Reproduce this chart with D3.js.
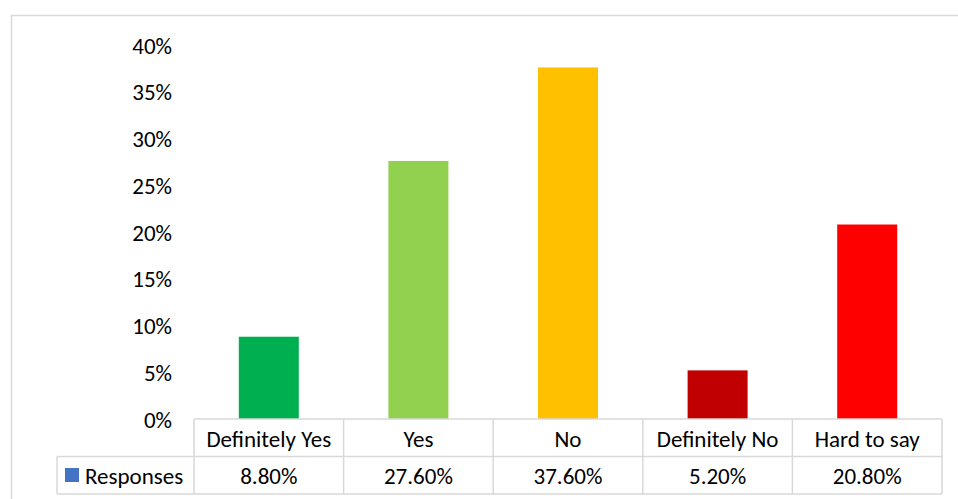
<!DOCTYPE html>
<html>
<head>
<meta charset="utf-8">
<script src="https://cdn.jsdelivr.net/npm/d3@7"></script>
<style>
html,body{margin:0;padding:0;background:#fff;}
svg{display:block;}
text{font-family:Carlito, Calibri, Lato, "Liberation Sans", sans-serif;fill:#000;}
</style>
</head>
<body>
<svg id="chart" width="958" height="499"></svg>
<script>
const categories = ["Definitely Yes", "Yes", "No", "Definitely No", "Hard to say"];
const values = [0.088, 0.276, 0.376, 0.052, 0.208];
const valueLabels = ["8.80%", "27.60%", "37.60%", "5.20%", "20.80%"];
const colors = ["#00B050", "#92D050", "#FFC000", "#C00000", "#FF0000"];
const yTicks = [0, 0.05, 0.10, 0.15, 0.20, 0.25, 0.30, 0.35, 0.40];
const seriesName = "Responses";

const svg = d3.select("#chart");
const fs = 23;
const gridColor = "#d9d9d9";

// outer chart border
svg.append("rect").attr("x", 11.5).attr("y", 15.5).attr("width", 1000).attr("height", 600)
  .attr("fill", "none").attr("stroke", gridColor).attr("stroke-width", 1.5);

const x = d3.scaleBand().domain(categories).range([194, 942]).paddingInner(0).paddingOuter(0);
const y = d3.scaleLinear().domain([0, 0.4]).range([419, 45]);

// y axis labels
const yAxis = d3.axisLeft(y).tickValues(yTicks).tickFormat(d3.format(".0%")).tickSize(0).tickPadding(0);
const yg = svg.append("g").attr("transform", "translate(172,0)").call(yAxis);
yg.select(".domain").remove();
yg.selectAll("text").attr("font-size", fs).attr("font-family", null).attr("fill", "#000").attr("dy", "0.35em");

// bars
const bw = 60;
svg.append("g").selectAll("rect").data(categories).join("rect")
  .attr("x", (d) => x(d) + x.bandwidth() / 2 - bw / 2)
  .attr("width", bw)
  .attr("y", (d, i) => y(values[i]))
  .attr("height", (d, i) => y(0) - y(values[i]))
  .attr("fill", (d, i) => colors[i]);

// data table
const rowTop = 419, rowMid = 456.5, rowBot = 494;
const tg = svg.append("g").attr("fill", "none").attr("stroke", gridColor).attr("stroke-width", 1.5);
tg.append("line").attr("x1", 194).attr("x2", 942).attr("y1", rowTop).attr("y2", rowTop);
tg.append("line").attr("x1", 57).attr("x2", 942).attr("y1", rowMid).attr("y2", rowMid);
tg.append("line").attr("x1", 57).attr("x2", 942).attr("y1", rowBot).attr("y2", rowBot);
tg.append("line").attr("x1", 57).attr("x2", 57).attr("y1", rowMid).attr("y2", rowBot);
const xs = categories.map(c => x(c)).concat([942]);
xs.forEach(v => {
  tg.append("line").attr("x1", v).attr("x2", v).attr("y1", rowTop).attr("y2", rowBot);
});

// header labels
svg.append("g").selectAll("text").data(categories).join("text")
  .attr("x", d => x(d) + x.bandwidth() / 2)
  .attr("y", (rowTop + rowMid) / 2 + 1)
  .attr("dy", "0.35em")
  .attr("text-anchor", "middle")
  .attr("font-size", fs)
  .text(d => d);

// values
svg.append("g").selectAll("text").data(valueLabels).join("text")
  .attr("x", (d, i) => x(categories[i]) + x.bandwidth() / 2)
  .attr("y", (rowMid + rowBot) / 2 + 1)
  .attr("dy", "0.35em")
  .attr("text-anchor", "middle")
  .attr("font-size", fs)
  .text(d => d);

// legend key
svg.append("rect").attr("x", 65).attr("y", 468).attr("width", 14).attr("height", 14).attr("fill", "#4472C4");
svg.append("text").attr("x", 85).attr("y", (rowMid + rowBot) / 2 + 1).attr("dy", "0.35em")
  .attr("font-size", fs).text(seriesName);
</script>
</body>
</html>
